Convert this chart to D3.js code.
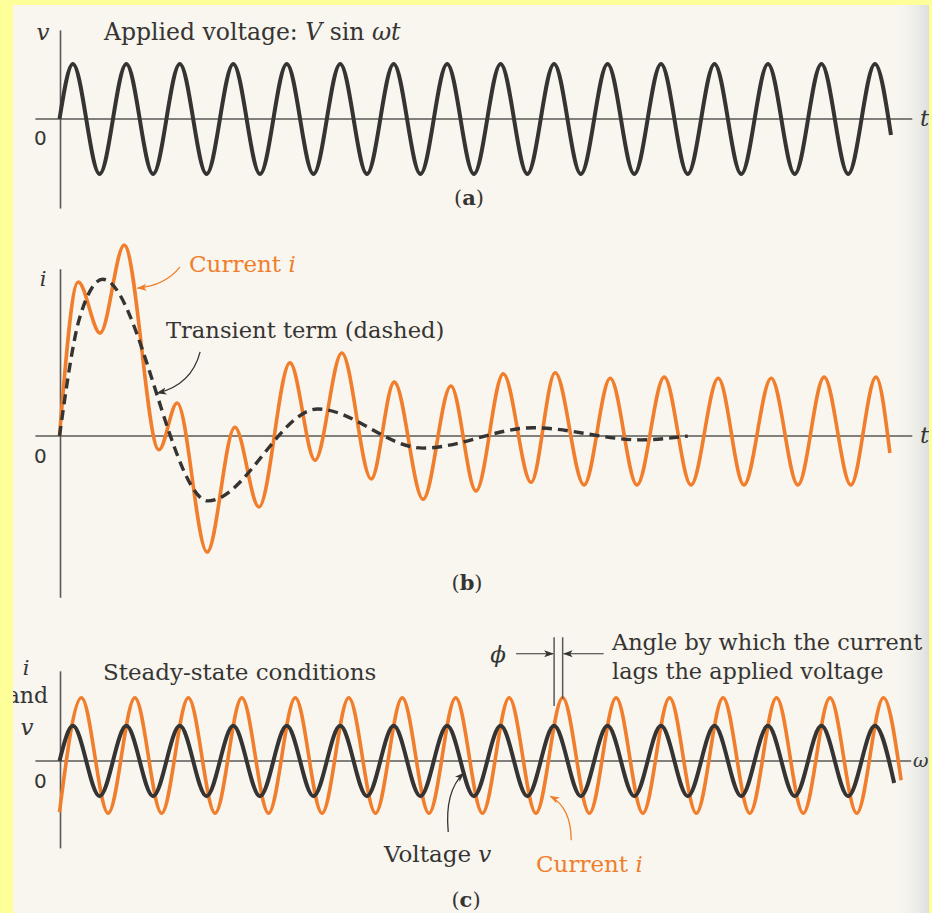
<!DOCTYPE html>
<html><head><meta charset="utf-8">
<script src="https://cdn.jsdelivr.net/npm/d3@7"></script>
<style>html,body{margin:0;padding:0;background:#ffff99;overflow:hidden}</style>
</head><body><svg id="chart" width="932" height="913"></svg>
<script>
// ---------- DATA (time in cycles of the drive, values in units of the steady amplitude) ----------
// (a) applied voltage extrema
const voltageA_t = [0, 0.25, 0.75, 1.25, 1.75, 2.25, 2.75, 3.25, 3.75, 4.25, 4.75, 5.25, 5.75, 6.25, 6.75, 7.25, 7.75, 8.25, 8.75, 9.25, 9.75, 10.25, 10.75, 11.25, 11.75, 12.25, 12.75, 13.25, 13.75, 14.25, 14.75, 15.25, 15.55];
const voltageA_v = [0, 1, -1, 1, -1, 1, -1, 1, -1, 1, -1, 1, -1, 1, -1, 1, -1, 1, -1, 1, -1, 1, -1, 1, -1, 1, -1, 1, -1, 1, -1, 1, -0.29];
// (b) current with transient
const currentB_t = [0, 0.35, 0.76, 1.21, 1.86, 2.20, 2.76, 3.28, 3.73, 4.31, 4.78, 5.28, 5.83, 6.26, 6.80, 7.32, 7.79, 8.30, 8.82, 9.27, 9.81, 10.30, 10.80, 11.31, 11.81, 12.32, 12.80, 13.31, 13.81, 14.30, 14.80, 15.27, 15.53];
const currentB_v = [0, 2.80, 1.87, 3.47, -0.25, 0.60, -2.11, 0.16, -1.29, 1.33, -0.44, 1.51, -0.78, 0.98, -1.15, 0.91, -1.00, 1.13, -0.84, 1.15, -0.89, 1.05, -0.89, 1.07, -0.89, 1.05, -0.89, 1.05, -0.89, 1.07, -0.89, 1.07, -0.31];
// (b) transient term (dashed)
const transientB_t = [0, 0.38, 0.81, 2.78, 4.83, 6.80, 8.86, 10.86, 11.75];
const transientB_v = [0, 2.16, 2.85, -1.18, 0.49, -0.22, 0.15, -0.07, 0];
// (c) steady state voltage and current
const voltageC_t = [0, 0.25, 0.75, 1.25, 1.75, 2.25, 2.75, 3.25, 3.75, 4.25, 4.75, 5.25, 5.75, 6.25, 6.75, 7.25, 7.75, 8.25, 8.75, 9.25, 9.75, 10.25, 10.75, 11.25, 11.75, 12.25, 12.75, 13.25, 13.75, 14.25, 14.75, 15.25, 15.61];
const voltageC_v = [0, 0.64, -0.64, 0.64, -0.64, 0.64, -0.64, 0.64, -0.64, 0.64, -0.64, 0.64, -0.64, 0.64, -0.64, 0.64, -0.64, 0.64, -0.64, 0.64, -0.64, 0.64, -0.64, 0.64, -0.64, 0.64, -0.64, 0.64, -0.64, 0.64, -0.64, 0.64, -0.40];
const currentC_t = [0, 0.41, 0.91, 1.41, 1.91, 2.41, 2.91, 3.41, 3.91, 4.41, 4.91, 5.41, 5.91, 6.41, 6.91, 7.41, 7.91, 8.41, 8.91, 9.41, 9.91, 10.41, 10.91, 11.41, 11.91, 12.41, 12.91, 13.41, 13.91, 14.41, 14.91, 15.41, 15.74];
const currentC_v = [-0.93, 1.15, -0.95, 1.15, -0.95, 1.15, -0.95, 1.15, -0.95, 1.15, -0.95, 1.15, -0.95, 1.15, -0.95, 1.15, -0.95, 1.15, -0.95, 1.15, -0.95, 1.15, -0.95, 1.15, -0.95, 1.15, -0.95, 1.15, -0.95, 1.15, -0.95, 1.15, -0.35];
// phase marker (cycles): voltage peak and current peak
const phiMarks = [9.25, 9.41];
// panel labels
const panelLabels = ["a", "b", "c"];

// ---------- STYLE ----------
const ORANGE = "#f07e2c", DARK = "#363432", AXIS = "#5a5856";
const SERIF = "'DejaVu Serif', serif", SANS = "'DejaVu Sans', sans-serif";

const svg = d3.select("#chart");
const W = 932, H = 913;

// paper
const defs = svg.append("defs");
const grad = defs.append("linearGradient").attr("id", "edge").attr("x1", 0).attr("x2", 1).attr("y1", 0).attr("y2", 0);
grad.append("stop").attr("offset", 0).attr("stop-color", "#f8f6ef").attr("stop-opacity", 0);
grad.append("stop").attr("offset", 1).attr("stop-color", "#d9dcdc").attr("stop-opacity", 0.9);
svg.append("rect").attr("x", 13).attr("y", 5).attr("width", 916).attr("height", H - 5).attr("fill", "#f8f6ef");
svg.append("rect").attr("x", 892).attr("y", 5).attr("width", 37).attr("height", H - 5).attr("fill", "url(#edge)");

["dark", "orange"].forEach(k => {
  defs.append("marker").attr("id", "arr-" + k).attr("viewBox", "0 0 10 8")
    .attr("refX", 9).attr("refY", 4).attr("markerWidth", 10).attr("markerHeight", 8)
    .attr("markerUnits", "userSpaceOnUse").attr("orient", "auto")
    .append("path").attr("d", "M0,0.5 L10,4 L0,7.5 L2.5,4 z").attr("fill", k === "dark" ? DARK : ORANGE);
});

// ---------- SCALES ----------
const x = d3.scaleLinear().domain([0, 16]).range([59.5, 59.5 + 16 * 53.47]);
const unit = 55;
const mkY = zero => d3.scaleLinear().domain([-1, 1]).range([zero + unit, zero - unit]);
const yA = mkY(119), yB = mkY(436), yC = mkY(761);

const line = (ys) => d3.line().x(d => x(d[0])).y(d => ys(d[1])).curve(d3.curveMonotoneX);
const zip = (a, b) => a.map((t, i) => [t, b[i]]);

function axes(ys, yLo, yHi, xRight) {
  const g = svg.append("g");
  const hs = d3.scaleLinear().domain([-0.46, xRight]).range([x(-0.46), x(xRight)]);
  g.append("g").attr("transform", `translate(0,${ys(0) - 0.5})`)
    .call(d3.axisBottom(hs).tickValues([]).tickSizeOuter(0));
  const vs = d3.scaleLinear().domain([yLo, yHi]).range([ys(yLo), ys(yHi)]);
  g.append("g").attr("transform", `translate(${x(0) + 0.5},0)`)
    .call(d3.axisLeft(vs).tickValues([]).tickSizeOuter(0));
  g.selectAll(".domain").attr("stroke", AXIS).attr("stroke-width", 1.6);
}

// ---------- PANEL (a) ----------
axes(yA, -1.62, 1.62, 15.94);
svg.append("path").datum(zip(voltageA_t, voltageA_v)).attr("d", line(yA))
  .attr("fill", "none").attr("stroke", DARK).attr("stroke-width", 4).attr("stroke-linejoin", "round");

// ---------- PANEL (b) ----------
axes(yB, -2.93, 3.04, 15.94);
svg.append("path").datum(zip(currentB_t, currentB_v)).attr("d", line(yB))
  .attr("fill", "none").attr("stroke", ORANGE).attr("stroke-width", 3.6);
svg.append("path").datum(zip(transientB_t, transientB_v)).attr("d", line(yB))
  .attr("fill", "none").attr("stroke", DARK).attr("stroke-width", 3.4).attr("stroke-dasharray", "10 6");

// ---------- PANEL (c) ----------
axes(yC, -1.58, 1.64, 15.92);
svg.append("path").datum(zip(currentC_t, currentC_v)).attr("d", line(yC))
  .attr("fill", "none").attr("stroke", ORANGE).attr("stroke-width", 3.6);
svg.append("path").datum(zip(voltageC_t, voltageC_v)).attr("d", line(yC))
  .attr("fill", "none").attr("stroke", DARK).attr("stroke-width", 4);

// ---------- TEXT ----------
function txt(px, py, parts, opts = {}) {
  const t = svg.append("text").attr("x", px).attr("y", py)
    .attr("font-family", opts.family || SERIF).attr("font-size", opts.size || 23)
    .attr("fill", opts.fill || DARK).attr("text-anchor", opts.anchor || "start");
  parts.forEach(p => {
    const s = typeof p === "string" ? { t: p } : p;
    t.append("tspan").text(s.t).attr("font-style", s.i ? "italic" : null).attr("font-weight", s.b ? "bold" : null);
  });
  return t;
}
// (a)
txt(43, 40, [{ t: "v", i: 1 }], { anchor: "middle", size: 23 });
txt(104, 40, ["Applied voltage: ", { t: "V", i: 1 }, " sin ", { t: "ωt", i: 1 }], { size: 23.5 });
txt(34, 145, ["0"], { family: SANS, size: 20 });
txt(920, 126, [{ t: "t", i: 1 }]);
txt(469, 205, ["(", { t: panelLabels[0], b: 1 }, ")"], { anchor: "middle", size: 21 });
// (b)
txt(43, 286, [{ t: "i", i: 1 }], { anchor: "middle", size: 21 });
txt(34, 463, ["0"], { family: SANS, size: 20 });
txt(920, 443, [{ t: "t", i: 1 }]);
txt(189, 272, ["Current ", { t: "i", i: 1 }], { fill: ORANGE });
txt(166, 338, ["Transient term (dashed)"], { size: 22.6 });
txt(467, 590, ["(", { t: panelLabels[1], b: 1 }, ")"], { anchor: "middle", size: 21 });
// (c)
txt(26, 675, [{ t: "i", i: 1 }], { anchor: "middle", size: 21 });
txt(48, 703, ["and"], { anchor: "end", size: 22 });
txt(27, 735, [{ t: "v", i: 1 }], { anchor: "middle", size: 23 });
txt(34, 788, ["0"], { family: SANS, size: 20 });
txt(913, 767, [{ t: "ω", i: 1 }], { size: 19 });
txt(103, 680, ["Steady-state conditions"]);
txt(612, 650, ["Angle by which the current"], { size: 22.4 });
txt(612, 679, ["lags the applied voltage"], { size: 22.4 });
txt(498, 662, [{ t: "ϕ", i: 1 }], { anchor: "middle" });
txt(384, 862, ["Voltage ", { t: "v", i: 1 }]);
txt(536, 872, ["Current ", { t: "i", i: 1 }], { fill: ORANGE });
txt(466, 907, ["(", { t: panelLabels[2], b: 1 }, ")"], { anchor: "middle", size: 21 });

// ---------- ANNOTATION ARROWS (positions in data units) ----------
function curveArrow(ys, p0, c, p1, color) {
  const P = p => [x(p[0]), ys(p[1])];
  const a = P(p0), b = P(c), d = P(p1);
  svg.append("path").attr("d", `M${a}Q${b} ${d}`).attr("fill", "none")
    .attr("stroke", color === "orange" ? ORANGE : DARK).attr("stroke-width", 1.3)
    .attr("marker-end", `url(#arr-${color})`);
}
curveArrow(yB, [2.25, 3.07], [1.97, 2.73], [1.46, 2.69], "orange");
curveArrow(yB, [2.63, 1.53], [2.47, 0.93], [1.83, 0.78], "dark");
curveArrow(yC, [7.27, -1.29], [7.20, -0.55], [7.56, -0.22], "dark");
curveArrow(yC, [9.57, -1.44], [9.57, -0.85], [9.18, -0.64], "orange");

// phase marker
const phiTop = 1.13;
svg.append("line").attr("x1", x(phiMarks[0])).attr("x2", x(phiMarks[0]))
  .attr("y1", yC(2.25)).attr("y2", yC(1.0)).attr("stroke", AXIS).attr("stroke-width", 1.5);
svg.append("line").attr("x1", x(phiMarks[1])).attr("x2", x(phiMarks[1]))
  .attr("y1", yC(2.25)).attr("y2", yC(phiTop)).attr("stroke", AXIS).attr("stroke-width", 1.5);
svg.append("line").attr("x1", x(phiMarks[0]) - 38).attr("x2", x(phiMarks[0]) - 1)
  .attr("y1", yC(1.95)).attr("y2", yC(1.95)).attr("stroke", DARK).attr("stroke-width", 1.2).attr("marker-end", "url(#arr-dark)");
svg.append("line").attr("x1", x(phiMarks[1]) + 41).attr("x2", x(phiMarks[1]) + 1)
  .attr("y1", yC(1.95)).attr("y2", yC(1.95)).attr("stroke", DARK).attr("stroke-width", 1.2).attr("marker-end", "url(#arr-dark)");

// yellow frame on top (clips edge text like the scan)
svg.append("rect").attr("x", 0).attr("y", 0).attr("width", 13).attr("height", H).attr("fill", "#ffff99");
svg.append("rect").attr("x", 0).attr("y", 0).attr("width", W).attr("height", 5).attr("fill", "#ffff99");
svg.append("rect").attr("x", 929).attr("y", 0).attr("width", 3).attr("height", H).attr("fill", "#ffff99");
</script></body></html>
